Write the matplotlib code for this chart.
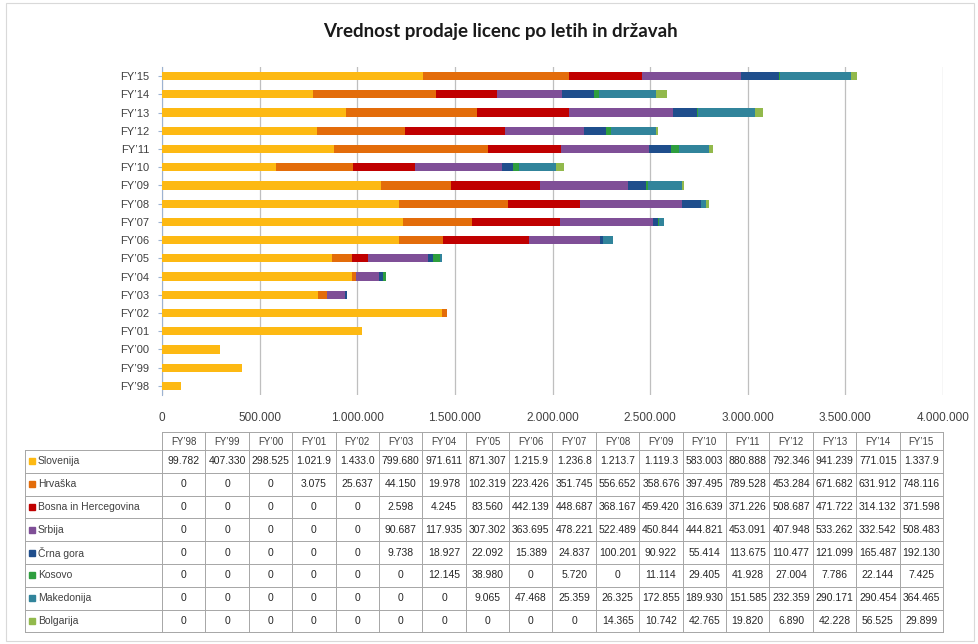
import matplotlib
matplotlib.use("Agg")
import matplotlib.pyplot as plt
import numpy as np

years = ["FY’98", "FY’99", "FY’00", "FY’01", "FY’02", "FY’03", "FY’04", "FY’05", "FY’06",
         "FY’07", "FY’08", "FY’09", "FY’10", "FY’11", "FY’12", "FY’13", "FY’14", "FY’15"]
countries = ["Slovenija", "Hrvaška", "Bosna in Hercegovina", "Srbija", "Črna gora",
             "Kosovo", "Makedonija", "Bolgarija"]

slovenija = [99782, 407330, 298525, 1021950, 1433050, 799680, 971611, 871307, 1215950,
             1236850, 1213750, 1119350, 583003, 880888, 792346, 941239, 771015, 1337950]
hrvaska = [0, 0, 0, 3075, 25637, 44150, 19978, 102319, 223426,
           351745, 556652, 358676, 397495, 789528, 453284, 671682, 631912, 748116]
bosna = [0, 0, 0, 0, 0, 2598, 4245, 83560, 442139,
         448687, 368167, 459420, 316639, 371226, 508687, 471722, 314132, 371598]
srbija = [0, 0, 0, 0, 0, 90687, 117935, 307302, 363695,
          478221, 522489, 450844, 444821, 453091, 407948, 533262, 332542, 508483]
crna_gora = [0, 0, 0, 0, 0, 9738, 18927, 22092, 15389,
             24837, 100201, 90922, 55414, 113675, 110477, 121099, 165487, 192130]
kosovo = [0, 0, 0, 0, 0, 0, 12145, 38980, 0,
          5720, 0, 11114, 29405, 41928, 27004, 7786, 22144, 7425]
makedonija = [0, 0, 0, 0, 0, 0, 0, 9065, 47468,
              25359, 26325, 172855, 189930, 151585, 232359, 290171, 290454, 364465]
bolgarija = [0, 0, 0, 0, 0, 0, 0, 0, 0,
             0, 14365, 10742, 42765, 19820, 6890, 42228, 56525, 29899]

series = [slovenija, hrvaska, bosna, srbija, crna_gora, kosovo, makedonija, bolgarija]
colors = ["#FDB913", "#E36C0A", "#C00000", "#7F4F97", "#1F4E8C", "#2E9E3E", "#31849B", "#92B94C"]

FONT = ["Liberation Sans Narrow", "Liberation Sans", "DejaVu Sans"]
plt.rcParams["font.family"] = FONT

W, H = 979, 644
fig = plt.figure(figsize=(W / 100, H / 100), dpi=100)

def fx(px):
    return px / W

def fy(py):
    return 1 - py / H

# frame around chart
bg = fig.add_axes([0, 0, 1, 1])
bg.set_xlim(0, W)
bg.set_ylim(H, 0)
bg.axis("off")
bg.add_patch(plt.Rectangle((6, 3), 968, 638, fill=False, edgecolor="#D9D9D9", lw=0.8))

fig.text(fx(500), fy(31), "Vrednost prodaje licenc po letih in državah", ha="center", va="center",
         fontsize=13.5, fontweight="bold", family=["Lato", "DejaVu Sans"], color="#1a1a1a")

# main chart
L, R, T, B = 162, 943, 67, 395
ax = fig.add_axes([fx(L), fy(B), fx(R) - fx(L), (B - T) / H])
y = np.arange(len(years))
left = np.zeros(len(years))
for vals, c, name in zip(series, colors, countries):
    v = np.array(vals, dtype=float)
    ax.barh(y, v, left=left, height=0.45, color=c, label=name, zorder=3)
    left += v
ax.set_xlim(0, 4000000)
ax.set_ylim(-0.5, len(years) - 0.5)
ax.set_yticks(y)
ax.set_yticklabels(years, fontsize=8, color="#404040")
xt = np.arange(0, 4000001, 500000)
ax.set_xticks(xt)
ax.set_xticklabels([f"{int(v):,}".replace(",", ".") for v in xt], fontsize=8.5, color="#404040")
ax.grid(axis="x", color="#BFBFBF", lw=0.9, zorder=0)
for s in ["top", "right", "bottom"]:
    ax.spines[s].set_visible(False)
ax.spines["left"].set_color("#9DB3D1")
ax.tick_params(axis="y", length=3, color="#9DB3D1", pad=6)
ax.tick_params(axis="x", length=0, pad=12)

# table
tab = fig.add_axes([0, 0, 1, 1])
tab.set_xlim(0, W)
tab.set_ylim(H, 0)
tab.axis("off")
ncol = len(years)
cw = (R - L) / ncol
hdr_top, hdr_bot = 432, 450
rh = 22.8
lc = "#A6A6A6"

def fmt(v):
    if v == 0:
        return "0"
    s = f"{int(v):,}".replace(",", ".")
    return s[:7]

# header
tab.plot([L, R], [hdr_top, hdr_top], color=lc, lw=0.7)
for j in range(ncol + 1):
    x0 = L + j * cw
    tab.plot([x0, x0], [hdr_top, hdr_bot + rh * len(countries)], color=lc, lw=0.7)
for j, yr in enumerate(years):
    tab.text(L + (j + 0.5) * cw, (hdr_top + hdr_bot) / 2 + 0.5, yr, ha="center", va="center",
             fontsize=7, color="#404040")
# rows
for i in range(len(countries) + 1):
    yy = hdr_bot + i * rh
    tab.plot([25, R], [yy, yy], color=lc, lw=0.7)
tab.plot([25, 25], [hdr_bot, hdr_bot + rh * len(countries)], color=lc, lw=0.7)
for i, (name, vals, c) in enumerate(zip(countries, series, colors)):
    yc = hdr_bot + (i + 0.5) * rh
    tab.add_patch(plt.Rectangle((29, yc - 3), 6, 6, color=c))
    tab.text(38, yc, name, ha="left", va="center", fontsize=7.5, color="#404040")
    for j, v in enumerate(vals):
        tab.text(L + (j + 0.5) * cw, yc, fmt(v), ha="center", va="center", fontsize=7.5, color="#262626")

fig.savefig("out.png", dpi=100)
